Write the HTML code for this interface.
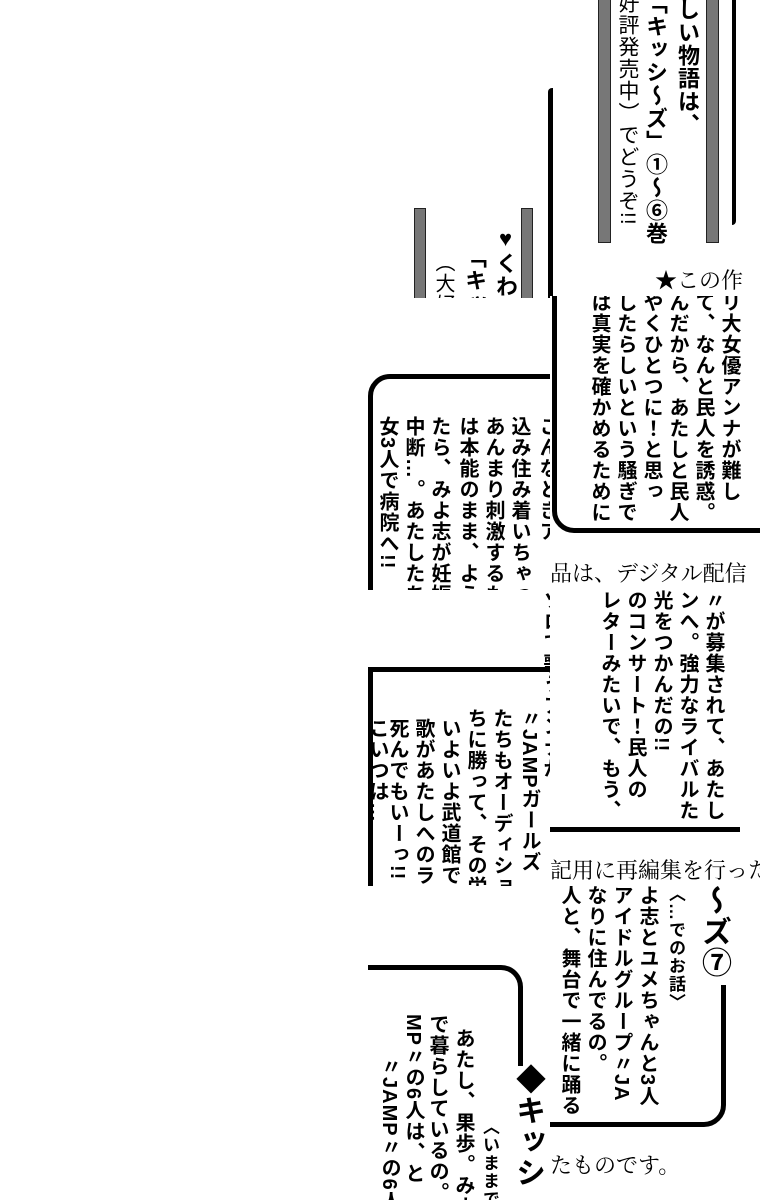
<!DOCTYPE html>
<html><head><meta charset="utf-8"><style>
html{overflow:hidden;width:760px;height:1200px}
body{margin:0;width:760px;height:1200px;background:#fff;position:relative;overflow:hidden;font-family:"Liberation Sans","Noto Sans CJK JP",sans-serif;}
.v{position:absolute;writing-mode:vertical-rl;font-weight:bold;font-size:20px;line-height:22px;white-space:nowrap;color:#000;letter-spacing:1px}
.n{font-weight:normal}
.h{position:absolute;font-family:"Liberation Serif","Noto Serif CJK SC",serif;font-size:22px;white-space:nowrap;line-height:28px;background:#fff}
.gb{position:absolute;background:#777;border:1px solid #222}
.p{position:absolute;overflow:hidden;background:#fff}
.b{position:absolute;border:5px solid #000}
</style></head><body>

<div class="gb" style="left:598px;top:-2px;width:11px;height:243px"></div>
<div class="gb" style="left:706px;top:-2px;width:11px;height:243px"></div>
<div class="v n" style="left:616px;top:-8px;font-size:21px">好評発売中）でどうぞ!!</div>
<div class="v" style="left:644px;top:-8px;font-size:22px">「キッシ〜ズ」①〜⑥巻</div>
<div class="v" style="left:676px;top:-2px;font-size:22px">しい物語は、</div>
<div style="position:absolute;left:732px;top:0;width:4px;height:225px;background:#000;border-radius:0 0 4px 0"></div>
<div style="position:absolute;left:548px;top:88px;width:5px;height:210px;background:#000;border-radius:4px 0 0 0"></div>

<div class="gb" style="left:414px;top:208px;width:10px;height:90px"></div>
<div class="gb" style="left:521px;top:208px;width:10px;height:90px"></div>
<div class="v" style="left:494px;top:226px;font-size:22px">♥くわ</div>
<div class="v" style="left:463px;top:246px;font-size:22px">「キッ</div>
<div class="v n" style="left:432px;top:252px;font-size:20px">（大好</div>
<div class="h" style="left:655px;top:267px;background:none">★この作</div>

<div class="p" style="left:366px;top:298px;width:186px;height:292px">
 <div class="b" style="left:2px;top:76px;width:300px;height:400px;border-radius:22px"></div>
 <div class="v" style="left:10px;top:118px">女<span style="font-size:20px">3</span>人で病院へ!!</div>
 <div class="v" style="left:36px;top:118px">中断…。あたしたち</div>
 <div class="v" style="left:62px;top:118px">たら、みよ志が妊娠</div>
 <div class="v" style="left:90px;top:118px">は本能のまま、よう</div>
 <div class="v" style="left:116px;top:118px">あんまり刺激するも</div>
 <div class="v" style="left:142px;top:118px">込み住み着いちゃって</div>
 <div class="v" style="left:170px;top:118px">こんなときア</div>
</div>

<div class="p" style="left:550px;top:296px;width:210px;height:262px">
 <div class="b" style="left:2px;top:-300px;width:400px;height:527px;border-radius:22px"></div>
 <div class="v" style="left:38px;top:-4px">は真実を確かめるために</div>
 <div class="v" style="left:64px;top:-4px">したらしいという騒ぎで</div>
 <div class="v" style="left:90px;top:-4px">やくひとつに！と思っ</div>
 <div class="v" style="left:116px;top:-4px">んだから、あたしと民人</div>
 <div class="v" style="left:142px;top:-4px">て、なんと民人を誘惑。</div>
 <div class="v" style="left:168px;top:-4px">リ大女優アンナが難し</div>
</div>
<div class="h" style="left:550px;top:560px;width:210px">品は、デジタル配信</div>

<div class="p" style="left:550px;top:590px;width:210px;height:270px">
 <div class="b" style="left:-10px;top:-300px;width:195px;height:532px;border-right:none;border-radius:0"></div>
 <div class="v" style="left:48px;top:0">レターみたいで、もう、</div>
 <div class="v" style="left:74px;top:0">のコンサート！民人の</div>
 <div class="v" style="left:100px;top:0">光をつかんだの!!</div>
 <div class="v" style="left:126px;top:0">ンへ。強力なライバルた</div>
 <div class="v" style="left:152px;top:0">〃が募集されて、あたし</div>
</div>

<div class="p" style="left:366px;top:590px;width:184px;height:296px">
 <div class="b" style="left:2px;top:77px;width:400px;height:400px;border-radius:0"></div>
 <div class="v" style="left:20px;top:128px">死んでもいーっ!!</div>
 <div class="v" style="left:46px;top:128px">歌があたしへのラブ</div>
 <div class="v" style="left:72px;top:128px">いよいよ武道館での</div>
 <div class="v" style="left:98px;top:118px">ちに勝って、その栄</div>
 <div class="v" style="left:124px;top:118px">たちもオーディショ</div>
 <div class="v" style="left:152px;top:118px">〃JAMPガールズ</div>
 <div class="v" style="left:174px;top:0">ソロで歌うアンナが</div>
 <div class="v" style="left:0px;top:128px">こいつは…</div>
</div>
<div class="h" style="left:550px;top:857px;width:210px">記用に再編集を行った</div>

<div class="p" style="left:550px;top:885px;width:210px;height:262px">
 <div class="b" style="left:-300px;top:-300px;width:466px;height:532px;border-radius:22px"></div>
 <div style="position:absolute;left:150px;top:0;width:30px;height:100px;background:#fff"></div>
 <div class="v" style="left:8px;top:0">人と、舞台で一緒に踊る</div>
 <div class="v" style="left:34px;top:0">なりに住んでるの。</div>
 <div class="v" style="left:60px;top:0">アイドルグループ〃JA</div>
 <div class="v" style="left:86px;top:0">よ志とユメちゃんと3人</div>
 <div class="v" style="left:114px;top:0;font-size:17px">〈…でのお話〉</div>
 <div class="v" style="left:146px;top:0;font-size:30px;line-height:34px">〜ズ⑦</div>
</div>

<div class="p" style="left:366px;top:886px;width:184px;height:314px">
 <div class="b" style="left:2px;top:79px;width:150px;height:400px;border-radius:0 22px 0 0;border-left:none;border-bottom:none"></div>
 <div style="position:absolute;left:140px;top:180px;width:40px;height:140px;background:#fff"></div>
 <div class="v" style="left:12px;top:170px">〃JAMP〃の6人</div>
 <div class="v" style="left:36px;top:128px">MP〃の6人は、と</div>
 <div class="v" style="left:60px;top:128px">で暮らしているの。</div>
 <div class="v" style="left:86px;top:142px">あたし、果歩。みよ</div>
 <div class="v" style="left:112px;top:232px;font-size:17px">〈いままでの</div>
 <div class="v" style="left:144px;top:178px;font-size:30px;line-height:34px">◆キッシ</div>
</div>
<div class="h" style="left:550px;top:1152px;width:210px">たものです。</div>

</body></html>
